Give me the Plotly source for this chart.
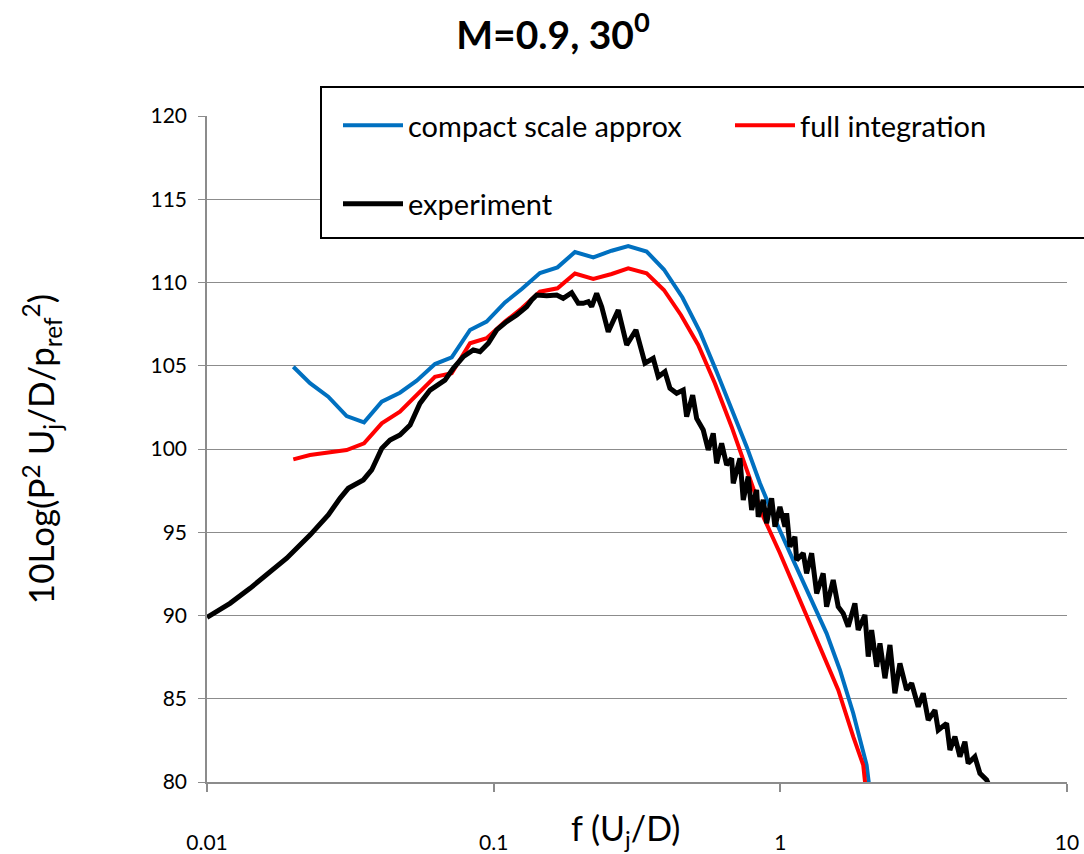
import plotly.graph_objects as go

# ---- data ----
compact_f = [0.0200, 0.02287, 0.02648, 0.0307, 0.0353, 0.0407, 0.0471, 0.0539, 0.0624, 0.0714,
             0.0827, 0.0945, 0.1095, 0.1256, 0.145, 0.167, 0.1921, 0.2226, 0.258, 0.2947,
             0.3417, 0.3926, 0.4556, 0.5243, 0.5996, 0.685, 0.763, 0.849, 0.971, 1.109,
             1.269, 1.45, 1.614, 1.796, 2.0, 2.07]
compact_L = [104.94, 103.95, 103.14, 101.98, 101.6, 102.84, 103.38, 104.1, 105.1, 105.5,
             107.15, 107.65, 108.8, 109.62, 110.57, 110.91, 111.83, 111.51, 111.91, 112.19,
             111.86, 110.78, 109.1, 107.03, 104.64, 102.24, 100.14, 97.94, 95.54, 93.33,
             91.13, 88.93, 86.73, 84.13, 81.02, 78.92]

full_f = [0.0200, 0.02287, 0.02648, 0.0307, 0.0353, 0.0407, 0.0471, 0.0539, 0.0624, 0.0714,
          0.0827, 0.0945, 0.1095, 0.1256, 0.145, 0.167, 0.1921, 0.2226, 0.258, 0.2947,
          0.3417, 0.3926, 0.45, 0.517, 0.591, 0.676, 0.763, 0.872, 0.997, 1.17,
          1.375, 1.592, 1.796, 1.946, 2.005]
full_L = [99.38, 99.64, 99.79, 99.94, 100.34, 101.54, 102.24, 103.24, 104.34, 104.55,
          106.35, 106.65, 107.65, 108.47, 109.45, 109.65, 110.54, 110.21, 110.51, 110.85,
          110.55, 109.55, 108.05, 106.25, 103.95, 101.34, 98.74, 95.93, 93.74, 90.93,
          88.13, 85.53, 82.72, 81.02, 78.92]

exp_f = [0.01, 0.01203, 0.01413, 0.01636, 0.01897, 0.02287, 0.02649, 0.0291, 0.0311, 0.0351,
         0.03754, 0.0407, 0.0435, 0.0471, 0.0511, 0.0553, 0.0600, 0.0676, 0.0723, 0.0783,
         0.0849, 0.0896, 0.0958, 0.1025, 0.111, 0.1203, 0.1303, 0.1357, 0.1413, 0.1531,
         0.1659, 0.1748, 0.1871, 0.1973, 0.2053, 0.2138, 0.2197, 0.2287, 0.2381, 0.251,
         0.272, 0.2911, 0.3135, 0.3371, 0.3603, 0.3751, 0.3958, 0.412, 0.4348, 0.4585,
         0.4712, 0.4945, 0.5106, 0.5384, 0.5604, 0.5834, 0.5996, 0.6241, 0.6497, 0.6763,
         0.6851, 0.723, 0.7424, 0.7727, 0.7942, 0.8266, 0.8373, 0.8717, 0.8957, 0.9325,
         0.9576, 0.9968, 1.0376, 1.052, 1.080, 1.124, 1.140, 1.202, 1.235, 1.286,
         1.339, 1.411, 1.450, 1.529, 1.592, 1.657, 1.725, 1.820, 1.869, 1.973,
         2.026, 2.082, 2.168, 2.226, 2.317, 2.412, 2.510, 2.613, 2.757, 2.871,
         3.027, 3.151, 3.280, 3.462, 3.555, 3.802, 3.905, 4.064, 4.231, 4.404,
         4.522, 4.772, 4.968, 5.245, 5.47]
exp_L = [89.89, 90.73, 91.63, 92.53, 93.44, 94.83, 96.04, 97.04, 97.64, 98.14,
         98.74, 100.04, 100.54, 100.84, 101.44, 102.74, 103.54, 104.14, 104.85, 105.54,
         105.95, 105.84, 106.35, 107.15, 107.65, 108.05, 108.55, 108.95, 109.25, 109.21,
         109.25, 109.05, 109.39, 108.75, 108.75, 108.85, 108.55, 109.35, 108.55, 107.04,
         108.35, 106.25, 107.15, 105.15, 105.45, 104.34, 104.64, 103.65, 103.35, 103.54,
         101.94, 103.24, 101.84, 101.14, 99.94, 100.94, 99.14, 100.34, 99.04, 99.44,
         97.94, 99.44, 96.94, 98.34, 96.34, 97.54, 95.93, 96.94, 95.54, 97.04,
         95.33, 96.53, 95.33, 96.14, 94.13, 94.73, 93.33, 93.74, 92.53, 93.74,
         91.33, 92.53, 90.53, 92.13, 90.53, 90.13, 89.33, 90.73, 89.13, 90.03,
         87.53, 89.13, 86.92, 88.33, 86.23, 88.23, 85.33, 87.13, 85.53, 85.93,
         84.52, 85.33, 83.72, 84.32, 83.12, 83.52, 81.92, 82.72, 81.52, 82.42,
         81.12, 81.52, 80.52, 80.12, 79.4]

x_tickvals = [0.01, 0.1, 1, 10]
x_ticktext = ["0.01", "0.1", "1", "10"]
y_tickvals = [80, 85, 90, 95, 100, 105, 110, 115, 120]

FONT = "Lato"

fig = go.Figure()
fig.add_trace(go.Scatter(x=compact_f, y=compact_L, mode="lines",
                         name="compact scale approx<br> ",
                         line=dict(color="#0070C0", width=4)))
fig.add_trace(go.Scatter(x=full_f, y=full_L, mode="lines",
                         name="full integration",
                         line=dict(color="#FF0000", width=4)))
fig.add_trace(go.Scatter(x=exp_f, y=exp_L, mode="lines",
                         name="experiment",
                         line=dict(color="#000000", width=5)))

# legend frame (white box with black border, extends past the right edge)
fig.add_shape(type="rect", xref="paper", yref="paper",
              x0=(321 - 207) / 860, x1=(1100 - 207) / 860,
              y0=(782 - 238) / 666, y1=1 + (116 - 87) / 666,
              line=dict(color="black", width=2), fillcolor="white", layer="above")

fig.update_layout(
    width=1084, height=854,
    margin=dict(l=207, r=17, t=116, b=72, autoexpand=False),
    paper_bgcolor="white", plot_bgcolor="white",
    font=dict(family=FONT, color="black"),
    title=dict(text="<b>M=0.9, 30<sup>0</sup></b>", x=553/1084, xanchor="center",
               xref="container", y=1-35/854, yanchor="middle", yref="container",
               font=dict(size=39, family=FONT, color="black")),
    showlegend=True,
    legend=dict(orientation="h", x=(338 - 207) / 860, xanchor="left",
                y=1 + (116 - 100) / 666, yanchor="top",
                bgcolor="rgba(0,0,0,0)", borderwidth=0,
                font=dict(size=29, family=FONT, color="black"),
                entrywidth=317, entrywidthmode="pixels", itemwidth=60, valign="top",
                traceorder="normal"),
)

fig.update_xaxes(type="log", range=[-2, 1], tickvals=x_tickvals, ticktext=x_ticktext,
                 showgrid=False, showline=True, linecolor="#8c8c8c", linewidth=1.5,
                 ticks="outside", ticklen=8, tickcolor="#8c8c8c", tickwidth=1.5,
                 tickfont=dict(size=21, family=FONT, color="black"),
                 ticklabelstandoff=33, zeroline=False, automargin=False)
fig.update_yaxes(range=[80, 120], tickvals=y_tickvals,
                 showgrid=True, gridcolor="#8c8c8c", gridwidth=1.3,
                 showline=True, linecolor="#8c8c8c", linewidth=1.5,
                 ticks="outside", ticklen=7, tickcolor="#8c8c8c", tickwidth=1.3,
                 tickfont=dict(size=21, family=FONT, color="black"),
                 ticklabelstandoff=7,
                 zeroline=False, automargin=False,
                 title=dict(text="10Log(P<sup>2</sup> U<sub>j</sub>/D/p<sub>ref</sub><sup>2</sup>)",
                            font=dict(size=35, family=FONT, color="black"), standoff=85))

fig.add_annotation(text="f (U<sub>j</sub>/D)", xref="paper", yref="paper",
                   x=(625-207)/860, y=-(830-782)/666, xanchor="center", yanchor="middle",
                   showarrow=False, font=dict(size=34, family=FONT, color="black"))

fig.write_html("out.html", config={"displayModeBar": False},
               post_script="document.body.style.margin='0px';document.body.style.overflow='hidden';")
